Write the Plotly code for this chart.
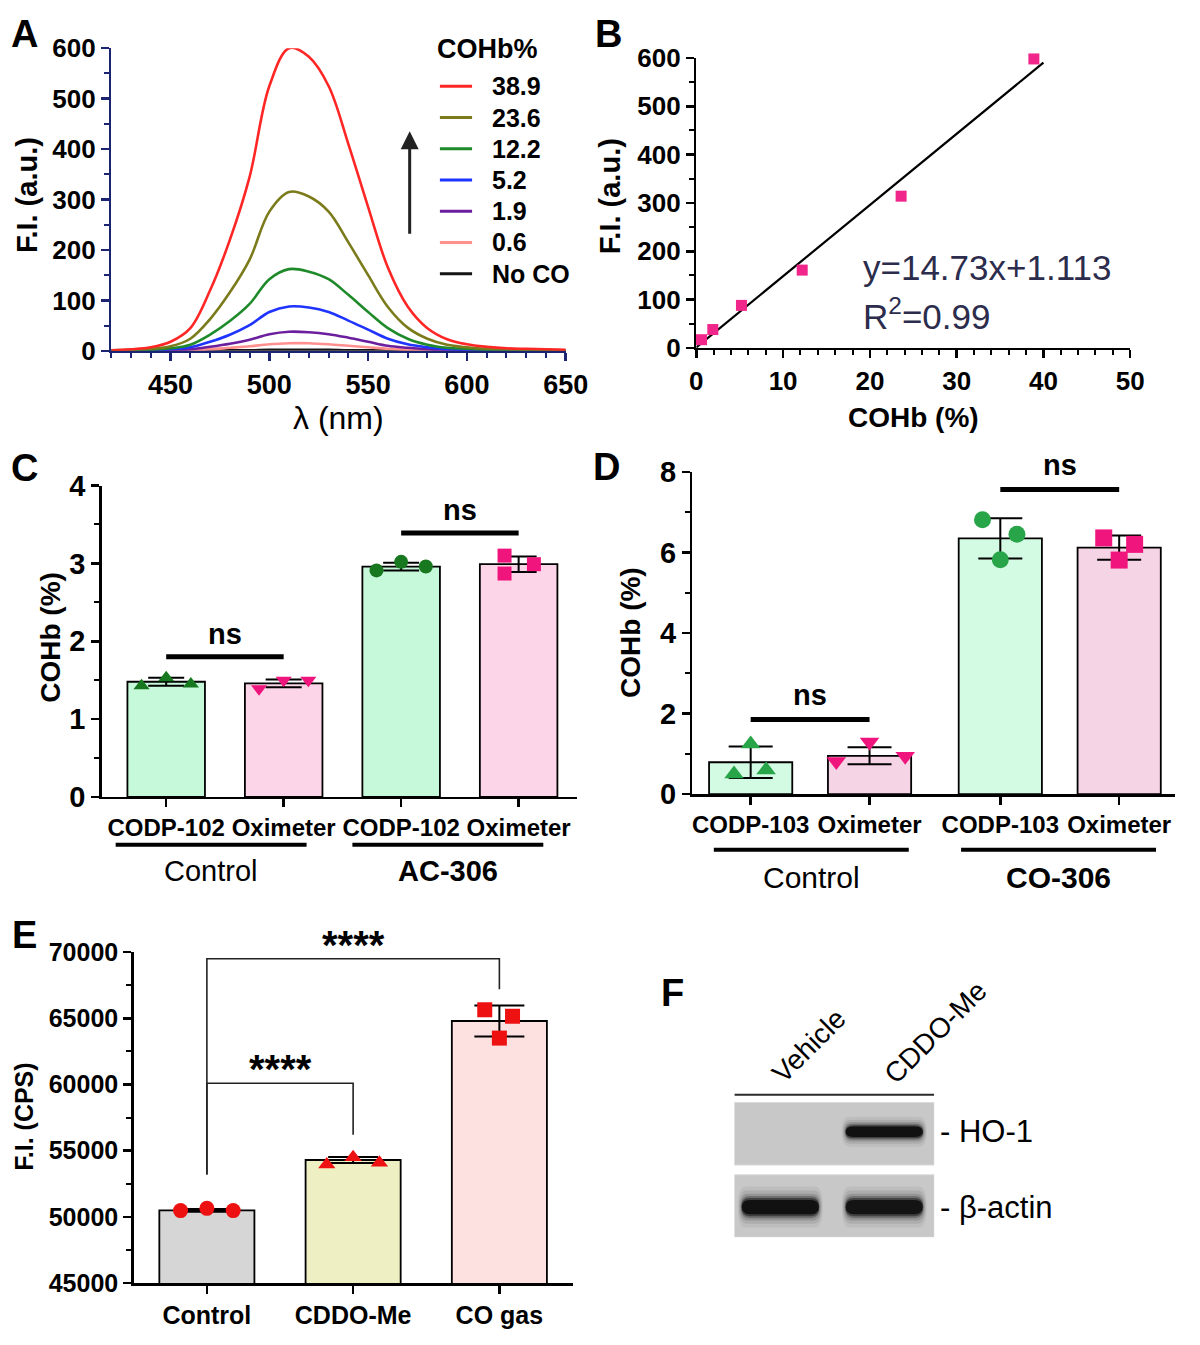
import plotly.graph_objects as go

W, H = 1200, 1345
FONT = "Liberation Sans, Arial, Helvetica, sans-serif"


def fx(p):
    return p / W


def fy(p):
    return 1 - p / H


# ======================= DATA =======================
# Panel A: emission spectra
wavelength_nm = [420, 430, 440, 450, 460, 470, 480, 490, 500, 510, 520, 530,
                 540, 550, 560, 570, 580, 590, 600, 610, 620, 630, 640, 650]
cohb_levels = ["38.9", "23.6", "12.2", "5.2", "1.9", "0.6", "No CO"]
fi_389 = [1, 3, 7, 18, 45, 120, 220, 345, 525, 600, 583, 525, 410, 285, 165, 88, 45, 23, 13, 8, 5, 4, 3, 2]
fi_236 = [1, 2, 4, 9, 24, 63, 116, 181, 276, 315, 306, 276, 215, 150, 87, 46, 24, 12, 7, 4, 3, 2, 2, 1]
fi_122 = [0, 1, 2, 5, 12, 32, 59, 93, 142, 162, 157, 142, 111, 77, 45, 24, 12, 6, 4, 2, 1, 1, 1, 1]
fi_52 = [0, 0, 1, 3, 7, 18, 32, 51, 77, 88, 86, 77, 60, 42, 24, 13, 7, 3, 2, 1, 1, 1, 0, 0]
fi_19 = [0, 0, 0, 1, 3, 8, 14, 22, 33, 38, 37, 33, 26, 18, 10, 6, 3, 1, 1, 0, 0, 0, 0, 0]
fi_06 = [0, 0, 0, 0, 1, 3, 6, 9, 13, 15, 15, 13, 10, 7, 4, 2, 1, 1, 0, 0, 0, 0, 0, 0]
fi_noco = [0, 0, 0, 0, 0, 1, 1, 1, 2, 2, 2, 2, 1, 1, 1, 0, 0, 0, 0, 0, 0, 0, 0, 0]
spectra = [fi_389, fi_236, fi_122, fi_52, fi_19, fi_06, fi_noco]

# Panel B: calibration
cohb_percent = [0.6, 1.9, 5.2, 12.2, 23.6, 38.9]
fi_peak = [17, 38, 88, 161, 314, 598]
fit_slope = 14.73
fit_intercept = 1.113
fit_x = [0, 40]

# Panel C
c_labels = ["CODP-102", "Oximeter", "CODP-102", "Oximeter"]
c_groups = ["Control", "AC-306"]
c_means = [1.48, 1.46, 2.96, 2.99]
c_sd = [0.05, 0.05, 0.05, 0.10]
c_points = [[1.43, 1.53, 1.45], [1.39, 1.50, 1.50], [2.91, 3.02, 2.96], [3.10, 2.87, 2.99]]
c_sig = ["ns", "ns"]

# Panel D
d_labels = ["CODP-103", "Oximeter", "CODP-103", "Oximeter"]
d_groups = ["Control", "CO-306"]
d_means = [0.79, 0.95, 6.35, 6.12]
d_sd = [0.39, 0.21, 0.50, 0.30]
d_points = [[0.50, 1.24, 0.60], [0.81, 1.29, 0.94], [6.81, 5.82, 6.45], [6.36, 5.81, 6.20]]
d_sig = ["ns", "ns"]

# Panel E
e_labels = ["Control", "CDDO-Me", "CO gas"]
e_means = [50500, 54300, 64800]
e_sd = [100, 220, 1170]
e_points = [[50480, 50650, 50480], [53970, 54510, 54100], [65650, 63510, 65160]]
e_sig = ["****", "****"]

# Panel F: western blot
f_lanes = ["Vehicle", "CDDO-Me"]
f_proteins = ["HO-1", "β-actin"]
f_band_intensity = [[0.0, 1.0], [1.0, 0.95]]

# ======================= STYLE / LAYOUT CONSTANTS =======================
spec_colors = ["#ff2626", "#7b7b1c", "#1f8a2a", "#1f34ff", "#6b1f9e", "#ff9090", "#151515"]
AXC_A = "#1b2470"

fig = go.Figure()
shapes = []
annotations = []


def ann(text, x, y, size, bold=False, xanchor="center", yanchor="middle",
        xref="paper", yref="paper", angle=0, color="black", **kw):
    annotations.append(dict(text=text, x=x, y=y, xref=xref, yref=yref,
                            xanchor=xanchor, yanchor=yanchor, showarrow=False,
                            textangle=angle,
                            font=dict(family=FONT, size=size, color=color,
                                      weight="bold" if bold else "normal"), **kw))


def axis(domain, anchor, **kw):
    d = dict(domain=domain, anchor=anchor, showline=True, linecolor="black", linewidth=2.5,
             ticks="outside", ticklen=8, tickwidth=2.5, tickcolor="black",
             showgrid=False, zeroline=False, fixedrange=True,
             tickfont=dict(family=FONT, size=26, color="black", weight="bold"))
    d.update(kw)
    return d


def tf(size):
    return dict(family=FONT, size=size, color="black", weight="bold")


# ---------------- Panel A ----------------
for lab, ys, col in reversed(list(zip(cohb_levels, spectra, spec_colors))):
    fig.add_trace(go.Scatter(x=wavelength_nm, y=ys, mode="lines", name=lab,
                             line=dict(color=col, width=2.6, shape="spline", smoothing=1.0),
                             xaxis="x", yaxis="y", showlegend=False))

# legend (drawn manually to match spacing)
ann("COHb%", fx(439), fy(34), 27, bold=True, xanchor="left")
for i, (lab, col) in enumerate(zip(cohb_levels, spec_colors)):
    yy = 72 + 32 * i
    shapes.append(dict(type="line", xref="paper", yref="paper", x0=fx(444), x1=fx(477),
                       y0=fy(yy), y1=fy(yy), line=dict(color=col, width=3)))
    ann(lab, fx(495), fy(yy), 25, bold=True, xanchor="left")
annotations.append(dict(x=fx(413), y=fy(118), xref="paper", yref="paper", ax=0, ay=104,
                        showarrow=True, arrowhead=2, arrowsize=1.2, arrowwidth=3,
                        arrowcolor="#222222", text=""))

# ---------------- Panel B ----------------
fig.add_trace(go.Scatter(x=fit_x, y=[fit_slope * v + fit_intercept for v in fit_x], mode="lines",
                         line=dict(color="black", width=2.2), xaxis="x2", yaxis="y2", showlegend=False))
fig.add_trace(go.Scatter(x=cohb_percent, y=fi_peak, mode="markers",
                         marker=dict(symbol="square", size=11, color="#f0268a"),
                         xaxis="x2", yaxis="y2", showlegend=False, cliponaxis=False))
ann(f"y={fit_slope}x+{fit_intercept}", fx(876), fy(258), 35, xanchor="left", color="#2c2c4c")
ann("R<sup>2</sup>=0.99", fx(876), fy(305), 35, xanchor="left", color="#2c2c4c")


# ---------------- bar panel helper ----------------
def bar_panel(xa, ya, pos, means, sd, fills, bwidth, cap, points, offsets, symbols, mcolors, msize):
    fig.add_trace(go.Bar(x=pos, y=means, width=bwidth,
                         marker=dict(color=fills, line=dict(color="black", width=1.8)),
                         error_y=dict(type="data", array=sd, color="black", thickness=2, width=cap),
                         xaxis=xa, yaxis=ya, showlegend=False))
    for p, pts, offs, sym, mc in zip(pos, points, offsets, symbols, mcolors):
        fig.add_trace(go.Scatter(x=[p + o for o in offs], y=pts, mode="markers",
                                 marker=dict(symbol=sym, size=msize, color=mc),
                                 xaxis=xa, yaxis=ya, showlegend=False, cliponaxis=False))


# ---------------- Panel C ----------------
c_pos = [0, 1, 2, 3]
bar_panel("x3", "y3", c_pos, c_means, c_sd, ["#c6f9da", "#fcd6e8", "#c6f9da", "#fcd6e8"], 0.66, 18,
          c_points, [[-0.21, 0, 0.21], [-0.21, 0, 0.21], [-0.21, 0, 0.21], [-0.12, -0.12, 0.13]],
          ["triangle-up", "triangle-down", "circle", "square"],
          ["#17781f", "#f0157d", "#17781f", "#f0157d"], 14)
for (i, j, yv), s in zip([(0, 1, 1.80), (2, 3, 3.39)], c_sig):
    shapes.append(dict(type="line", xref="x3", yref="y3", x0=c_pos[i], x1=c_pos[j], y0=yv, y1=yv,
                       line=dict(color="black", width=5)))
    ann(s, (c_pos[i] + c_pos[j]) / 2, yv, 29, bold=True, xref="x3", yref="y3", yshift=23)
for (x0, x1), g, b in zip([(-0.43, 1.195), (1.585, 3.21)], c_groups, [False, True]):
    shapes.append(dict(type="line", xref="x3", yref="paper", x0=x0, x1=x1, y0=fy(849), y1=fy(849),
                       line=dict(color="black", width=4)))
    ann(g, (x0 + x1) / 2, fy(876), 29, bold=b, xref="x3")

# ---------------- Panel D ----------------
d_pos = [0, 1, 2.1, 3.1]
bar_panel("x4", "y4", d_pos, d_means, d_sd, ["#d3fbe3", "#f5d4e5", "#d3fbe3", "#f5d4e5"], 0.7, 22,
          d_points, [[-0.14, 0, 0.13], [-0.28, 0, 0.3], [-0.15, 0, 0.14], [-0.13, 0, 0.13]],
          ["triangle-up", "triangle-down", "circle", "square"],
          ["#28a449", "#f0157d", "#28a449", "#f0157d"], 17)
for (i, j, yv), s in zip([(0, 1, 1.85), (2, 3, 7.56)], d_sig):
    shapes.append(dict(type="line", xref="x4", yref="y4", x0=d_pos[i], x1=d_pos[j], y0=yv, y1=yv,
                       line=dict(color="black", width=5)))
    ann(s, (d_pos[i] + d_pos[j]) / 2, yv, 29, bold=True, xref="x4", yref="y4", yshift=25)
for (x0, x1), g, b in zip([(-0.31, 1.33), (1.77, 3.41)], d_groups, [False, True]):
    shapes.append(dict(type="line", xref="x4", yref="paper", x0=x0, x1=x1, y0=fy(854), y1=fy(854),
                       line=dict(color="black", width=4)))
    ann(g, (x0 + x1) / 2, fy(882), 30, bold=b, xref="x4")

# ---------------- Panel E ----------------
e_pos = [0, 1, 2]
bar_panel("x5", "y5", e_pos, e_means, e_sd, ["#d6d6d6", "#efefc4", "#fde0e0"], 0.65, 25,
          e_points, [[-0.18, 0, 0.18], [-0.18, 0, 0.18], [-0.1, 0, 0.09]],
          ["circle", "triangle-up", "square"], ["#ee1111", "#ee1111", "#ee1111"], 15)
for (i, j, top, lb, rb), s in zip([(0, 1, 60100, 53200, 56200), (0, 2, 69500, 53200, 67200)], e_sig):
    shapes.append(dict(type="path", xref="x5", yref="y5",
                       path=f"M {e_pos[i]},{lb} L {e_pos[i]},{top} L {e_pos[j]},{top} L {e_pos[j]},{rb}",
                       line=dict(color="#222222", width=1.6)))
    ann(s, (e_pos[i] + e_pos[j]) / 2, top, 40, bold=True, xref="x5", yref="y5", yshift=14)

# ---------------- Panel F ----------------
lane_center = [0.46, 1.5]
row_center = [0.735, 0.21]
row_half = [0.04, 0.055]


def band_path(xc, yc, hw, hh, rx):
    x0, x1, y0, y1 = xc - hw, xc + hw, yc - hh, yc + hh
    return (f"M {x0 + rx},{y0} L {x1 - rx},{y0} Q {x1},{y0} {x1},{yc} Q {x1},{y1} {x1 - rx},{y1} "
            f"L {x0 + rx},{y1} Q {x0},{y1} {x0},{yc} Q {x0},{y0} {x0 + rx},{y0} Z")


shapes.append(dict(type="line", xref="x6", yref="y6", x0=0, x1=2, y0=1.0, y1=1.0,
                   line=dict(color="#2a2a2a", width=4)))
for (b0, b1) in [(0.503, 0.939), (0.0, 0.435)]:
    shapes.append(dict(type="rect", xref="x6", yref="y6", x0=0, x1=2, y0=b0, y1=b1,
                       fillcolor="#c8c8c8", line=dict(color="#dadada", width=1), layer="below"))
for r, prot in enumerate(f_proteins):
    for l, lane in enumerate(f_lanes):
        inten = f_band_intensity[r][l]
        if inten <= 0:
            continue
        for grow, wgrow, op in [(2.6, 0.04, 0.06), (2.1, 0.03, 0.09), (1.7, 0.02, 0.15),
                                (1.4, 0.01, 0.28), (1.15, 0.004, 0.5), (0.9, 0.0, 0.95)]:
            shapes.append(dict(type="path", xref="x6", yref="y6",
                               path=band_path(lane_center[l], row_center[r], 0.385 + wgrow,
                                              row_half[r] * grow, 0.08),
                               fillcolor=f"rgba(15,15,15,{op * inten:.3f})", line=dict(width=0)))
    ann("- " + prot, fx(955), fy(1143 if r == 0 else 1221), 31, xanchor="left")
ann(f_lanes[0], fx(823), fy(1055), 28, angle=-45)
ann(f_lanes[1], fx(952), fy(1041), 28, angle=-45)

# ---------------- titles, panel letters ----------------
for letter, (x, y) in zip("ABCDEF", [(18, 18), (617, 18), (18, 463), (615, 462), (18, 941), (683, 1001)]):
    ann(letter, fx(x), fy(y), 38, bold=True)
ann("F.I. (a.u.)", fx(20), fy(184), 29, bold=True, angle=-90)
ann("λ (nm)", fx(340), fy(412), 32)
ann("F.I. (a.u.)", fx(618), fy(185), 29, bold=True, angle=-90)
ann("COHb (%)", fx(930), fy(411), 28, bold=True)
ann("COHb (%)", fx(45), fy(636), 28, bold=True, angle=-90)
ann("COHb (%)", fx(640), fy(632), 28, bold=True, angle=-90)
ann("F.I. (CPS)", fx(18), fy(1128), 25, bold=True, angle=-90)

fig.update_layout(
    width=W, height=H, autosize=False, margin=dict(l=0, r=0, t=0, b=0),
    paper_bgcolor="white", plot_bgcolor="rgba(0,0,0,0)", showlegend=False,
    font=dict(family=FONT, color="black"),
    bargap=0,
    # A
    xaxis=axis([fx(107), fx(573)], "y", range=[420, 650], tick0=450, dtick=50,
               linecolor=AXC_A, tickcolor=AXC_A, tickfont=tf(27),
               minor=dict(ticks="outside", dtick=10, tick0=420, ticklen=5, tickwidth=2, tickcolor=AXC_A)),
    yaxis=axis([fy(343), fy(33)], "x", range=[0, 600], dtick=100,
               linecolor=AXC_A, tickcolor=AXC_A, tickfont=tf(26),
               minor=dict(ticks="outside", dtick=50, ticklen=5, tickwidth=2, tickcolor=AXC_A)),
    # B
    xaxis2=axis([fx(707), fx(1152)], "y2", range=[0, 50], dtick=10,
                minor=dict(ticks="outside", dtick=2, ticklen=5, tickwidth=2, tickcolor="black")),
    yaxis2=axis([fy(340), fy(43)], "x2", range=[0, 600], dtick=100,
                minor=dict(ticks="outside", dtick=50, ticklen=5, tickwidth=2, tickcolor="black")),
    # C
    xaxis3=axis([fx(97), fx(585)], "y3", range=[-0.55, 3.5], tickvals=c_pos, ticktext=c_labels,
                tickfont=tf(24)),
    yaxis3=axis([fy(800), fy(481)], "x3", range=[0, 4], dtick=1, tickfont=tf(29),
                minor=dict(ticks="outside", dtick=0.5, ticklen=5, tickwidth=2, tickcolor="black")),
    # D
    xaxis4=axis([fx(703), fx(1198)], "y4", range=[-0.49, 3.57], tickvals=d_pos, ticktext=d_labels,
                tickfont=tf(24)),
    yaxis4=axis([fy(797), fy(467)], "x4", range=[0, 8], dtick=2, tickfont=tf(29),
                minor=dict(ticks="outside", dtick=1, ticklen=5, tickwidth=2, tickcolor="black")),
    # E
    xaxis5=axis([fx(130), fx(580)], "y5", range=[-0.5, 2.5], tickvals=e_pos, ticktext=e_labels,
                tickfont=tf(25)),
    yaxis5=axis([fy(1298), fy(959)], "x5", range=[45000, 70000], dtick=5000, tickformat="d",
                tickfont=tf(25),
                minor=dict(ticks="outside", dtick=2500, ticklen=5, tickwidth=2, tickcolor="black")),
    # F
    xaxis6=dict(domain=[fx(746), fx(951)], anchor="y6", range=[0, 2], visible=False, fixedrange=True),
    yaxis6=dict(domain=[fy(1251), fy(1104)], anchor="x6", range=[0, 1], visible=False, fixedrange=True),
    shapes=shapes,
    annotations=annotations,
)

# remove the browser's default 8px page margin so the figure sits at the page origin
fig.write_html("out.html", config={"displayModeBar": False, "staticPlot": True},
               post_script="document.body.style.margin='0px';document.body.style.overflow='hidden';")
